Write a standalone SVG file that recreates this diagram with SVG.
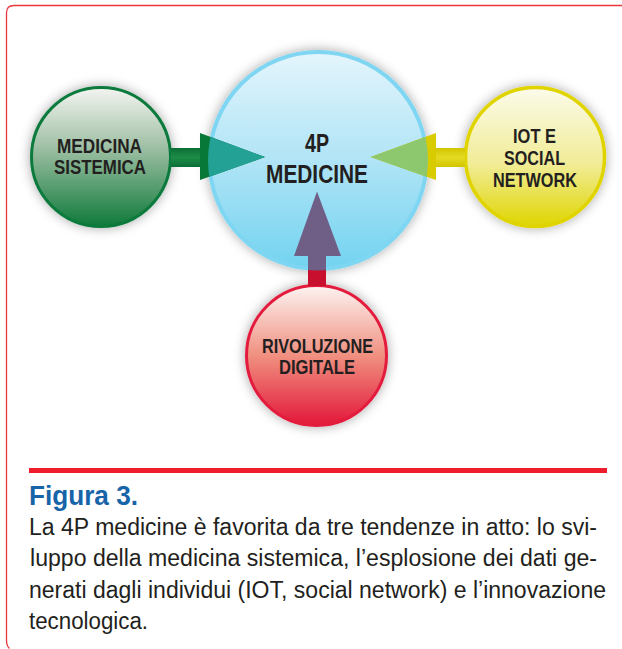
<svg xmlns="http://www.w3.org/2000/svg" width="622" height="649" viewBox="0 0 622 649">
<defs>
<style>
.lbl{font-family:"Liberation Sans",Arial,sans-serif;font-weight:bold;fill:#231f20;font-size:21px}
.big{font-size:26px}
.cap{font-family:"Liberation Sans",Arial,sans-serif;fill:#231f20;font-size:23.5px}
.ttl{font-family:"Liberation Sans",Arial,sans-serif;font-weight:bold;fill:#1764a8;font-size:27px}
</style>
<filter id="sh" x="-30%" y="-30%" width="160%" height="160%">
<feDropShadow dx="0" dy="0" stdDeviation="6" flood-color="#000" flood-opacity="0.35"/>
</filter>
<linearGradient id="gG" x1="0" y1="0" x2="0" y2="1">
<stop offset="0" stop-color="#f3f5f1"/><stop offset="0.4" stop-color="#a6c3aa"/><stop offset="1" stop-color="#0f7a3a"/>
</linearGradient>
<linearGradient id="gB" x1="0" y1="0" x2="0" y2="1">
<stop offset="0" stop-color="#e4f5fc"/><stop offset="0.5" stop-color="#b0e4f6"/><stop offset="1" stop-color="#72d3f0"/>
</linearGradient>
<linearGradient id="gY" x1="0" y1="0" x2="0" y2="1">
<stop offset="0" stop-color="#fbfbeb"/><stop offset="0.55" stop-color="#f1ec96"/><stop offset="1" stop-color="#dfd500"/>
</linearGradient>
<linearGradient id="gR" x1="0" y1="0" x2="0" y2="1">
<stop offset="0" stop-color="#fdf3f1"/><stop offset="0.5" stop-color="#f09080"/><stop offset="1" stop-color="#e3173a"/>
</linearGradient>
<linearGradient id="sG" x1="0" y1="0" x2="0" y2="1">
<stop offset="0" stop-color="#0a6f36"/><stop offset="0.5" stop-color="#1e8c48"/><stop offset="1" stop-color="#0a6f36"/>
</linearGradient>
<linearGradient id="sY" x1="0" y1="0" x2="0" y2="1">
<stop offset="0" stop-color="#d2c600"/><stop offset="0.5" stop-color="#e4da22"/><stop offset="1" stop-color="#d2c600"/>
</linearGradient>
<clipPath id="cB"><circle cx="318" cy="160.5" r="110"/></clipPath>
</defs>
<rect width="622" height="649" fill="#fff"/>
<path d="M622 5.5 H14 Q6.5 5.5 6.5 13 V640 Q6.5 646 9.5 648.5" fill="none" stroke="#e8373a" stroke-width="1.3"/>

<g id="node-medicina">
<circle cx="101" cy="157" r="69.5" fill="url(#gG)" stroke="#0a7a3c" stroke-width="3" filter="url(#sh)"/>
<text class="lbl" x="57" y="153" textLength="85" lengthAdjust="spacingAndGlyphs">MEDICINA</text>
<text class="lbl" x="54" y="174" textLength="92" lengthAdjust="spacingAndGlyphs">SISTEMICA</text>
</g>
<g id="node-iot">
<circle cx="535" cy="157" r="69.5" fill="url(#gY)" stroke="#e0d400" stroke-width="3.5" filter="url(#sh)"/>
<text class="lbl" x="513" y="143" textLength="43" lengthAdjust="spacingAndGlyphs">IOT E</text>
<text class="lbl" x="504" y="165" textLength="61" lengthAdjust="spacingAndGlyphs">SOCIAL</text>
<text class="lbl" x="493" y="186.5" textLength="84" lengthAdjust="spacingAndGlyphs">NETWORK</text>
</g>
<g id="node-4p">
<circle cx="318" cy="160.5" r="108.5" fill="url(#gB)" stroke="#7fd6f2" stroke-width="4" filter="url(#sh)"/>
<text class="lbl big" x="305" y="152" textLength="24" lengthAdjust="spacingAndGlyphs">4P</text>
<text class="lbl big" x="266" y="182.5" textLength="102" lengthAdjust="spacingAndGlyphs">MEDICINE</text>
</g>
<g id="node-rivoluzione">
<circle cx="316.5" cy="355.5" r="70" fill="url(#gR)" stroke="#e31c3d" stroke-width="3" filter="url(#sh)"/>
<text class="lbl" x="262" y="353" textLength="111" lengthAdjust="spacingAndGlyphs">RIVOLUZIONE</text>
<text class="lbl" x="279" y="374" textLength="76" lengthAdjust="spacingAndGlyphs">DIGITALE</text>
</g>

<g id="connectors">
<g id="arrow-medicina">
<rect x="171" y="148" width="30" height="19" fill="url(#sG)"/>
<path d="M200 133 L265 157 L200 180 Z" fill="#087838"/>
<path d="M200 133 L265 157 L200 180 Z" fill="#22a194" clip-path="url(#cB)"/>
</g>
<g id="arrow-iot">
<rect x="435" y="148" width="30" height="19" fill="url(#sY)"/>
<path d="M436 133 L370.5 157 L436 180 Z" fill="#d8cb00"/>
<path d="M436 133 L370.5 157 L436 180 Z" fill="#8dc86e" clip-path="url(#cB)"/>
</g>
<g id="arrow-rivoluzione">
<rect x="308" y="255" width="18" height="31" fill="#c8102e"/>
<rect x="308" y="255" width="18" height="31" fill="#6f5f87" clip-path="url(#cB)"/>
<path d="M294 256 L317 191.5 L341 256 Z" fill="#6f5f87"/>
</g>
</g>

<g id="caption">
<rect x="29" y="468" width="578" height="5" fill="#ee1d2b"/>
<text class="ttl" x="29" y="505" textLength="109" lengthAdjust="spacingAndGlyphs">Figura 3.</text>
<text class="cap" x="29" y="534.5" textLength="568" lengthAdjust="spacingAndGlyphs">La 4P medicine è favorita da tre tendenze in atto: lo svi-</text>
<text class="cap" x="30" y="566" textLength="567" lengthAdjust="spacingAndGlyphs">luppo della medicina sistemica, l’esplosione dei dati ge-</text>
<text class="cap" x="29" y="597.5" textLength="577" lengthAdjust="spacingAndGlyphs">nerati dagli individui (IOT, social network) e l’innovazione</text>
<text class="cap" x="29" y="629" textLength="119" lengthAdjust="spacingAndGlyphs">tecnologica.</text>
</g>
</svg>
